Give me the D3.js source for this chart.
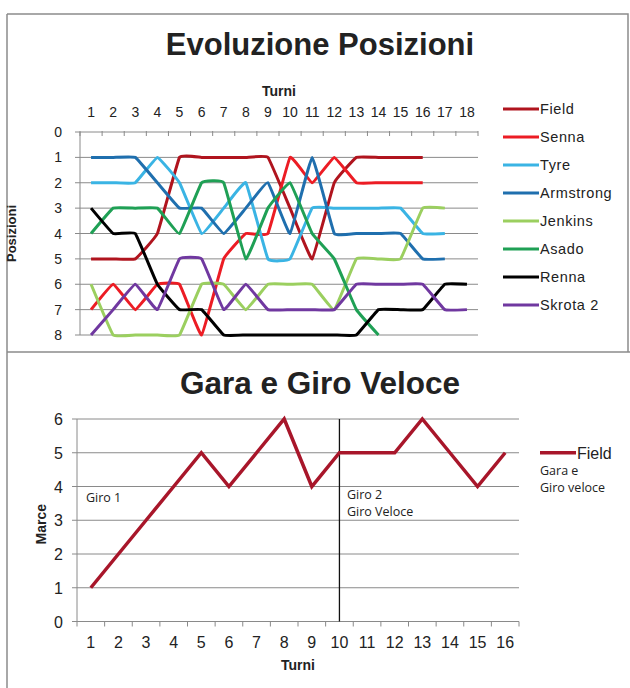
<!DOCTYPE html>
<html>
<head>
<meta charset="utf-8">
<script src="https://cdn.jsdelivr.net/npm/d3@7"></script>
<style>
  body { margin: 0; background: #fff; }
  svg { display: block; }
  text { font-family: "Liberation Sans", Arial, sans-serif; fill: #222; }
</style>
</head>
<body>
<svg id="chart" width="630" height="688"></svg>
<script>
// ---- Evoluzione Posizioni ----
const turni = [1, 2, 3, 4, 5, 6, 7, 8, 9, 10, 11, 12, 13, 14, 15, 16, 17, 18];
const posizioniTicks = [0, 1, 2, 3, 4, 5, 6, 7, 8];
const piloti = ["Field", "Senna", "Tyre", "Armstrong", "Jenkins", "Asado", "Renna", "Skrota 2"];
const coloriPiloti = ["#b0141e", "#ec1c24", "#3ab4e4", "#1f6fae", "#9bcf5f", "#1fa055", "#000000", "#7038a0"];

const posField     = [5, 5, 5, 4, 1, 1, 1, 1, 1, 3, 5, 2, 1, 1, 1, 1];
const posSenna     = [7, 6, 7, 6, 6, 8, 5, 4, 4, 1, 2, 1, 2, 2, 2, 2];
const posTyre      = [2, 2, 2, 1, 2, 4, 3, 2, 5, 5, 3, 3, 3, 3, 3, 4, 4];
const posArmstrong = [1, 1, 1, 2, 3, 3, 4, 3, 2, 4, 1, 4, 4, 4, 4, 5, 5];
const posJenkins   = [6, 8, 8, 8, 8, 6, 6, 7, 6, 6, 6, 7, 5, 5, 5, 3, 3];
const posAsado     = [4, 3, 3, 3, 4, 2, 2, 5, 3, 2, 4, 5, 7, 8];
const posRenna     = [3, 4, 4, 6, 7, 7, 8, 8, 8, 8, 8, 8, 8, 7, 7, 7, 6, 6];
const posSkrota    = [8, 7, 6, 7, 5, 5, 7, 6, 7, 7, 7, 7, 6, 6, 6, 6, 7, 7];

// ---- Gara e Giro Veloce ----
const turniGara = [1, 2, 3, 4, 5, 6, 7, 8, 9, 10, 11, 12, 13, 14, 15, 16];
const marceTicks = [0, 1, 2, 3, 4, 5, 6];
const marceField = [1, 2, 3, 4, 5, 4, 5, 6, 4, 5, 5, 5, 6, 5, 4, 5];
const turnoGiro2 = 10;
const noteGiro1 = ["Giro 1"];
const noteGiro2 = ["Giro 2", "Giro Veloce"];
const legendaGara = ["Gara e", "Giro veloce"];

const serie = [posField, posSenna, posTyre, posArmstrong, posJenkins, posAsado, posRenna, posSkrota];

const svg = d3.select("#chart");
const frameColor = "#8c8c8c";
const gridColor = "#8a8a8a";

// panel frames
svg.append("path")
  .attr("d", "M7,14 H628 V352 M7,14 V688 M7,352 H630")
  .attr("fill", "none").attr("stroke", frameColor).attr("stroke-width", 1.5);

// ===================== top panel =====================
const xTop = d3.scaleBand().domain(turni).range([80, 478]);
const yTop = d3.scaleLinear().domain([0, 8]).range([132, 335]);
const cx = t => xTop(t) + xTop.bandwidth() / 2;

const gTop = svg.append("g");

gTop.append("text")
  .attr("x", 320).attr("y", 55)
  .attr("text-anchor", "middle")
  .style("font-size", "31px").style("font-weight", "bold")
  .text("Evoluzione Posizioni");

// horizontal gridlines
gTop.selectAll("line.grid").data(posizioniTicks.slice(1)).enter().append("line")
  .attr("x1", 80).attr("x2", 478)
  .attr("y1", d => yTop(d)).attr("y2", d => yTop(d))
  .attr("stroke", gridColor).attr("stroke-width", 1);

// top category axis
gTop.append("line")
  .attr("x1", 80).attr("x2", 478).attr("y1", yTop(0)).attr("y2", yTop(0))
  .attr("stroke", gridColor).attr("stroke-width", 1);
const bordiTop = turni.map(t => xTop(t)).concat([xTop.range()[1]]);
gTop.selectAll("line.tickx").data(bordiTop).enter().append("line")
  .attr("x1", d => d).attr("x2", d => d)
  .attr("y1", yTop(0) - 1).attr("y2", yTop(0) + 4)
  .attr("stroke", gridColor);
gTop.selectAll("text.xlab").data(turni).enter().append("text")
  .attr("x", d => cx(d)).attr("y", 117)
  .attr("text-anchor", "middle")
  .style("font-size", "14px")
  .text(d => d);
gTop.append("text")
  .attr("x", 279).attr("y", 96)
  .attr("text-anchor", "middle")
  .style("font-size", "14px").style("font-weight", "bold")
  .text("Turni");

// left value axis
gTop.append("line")
  .attr("x1", 80).attr("x2", 80).attr("y1", yTop(0)).attr("y2", yTop(8))
  .attr("stroke", gridColor);
gTop.selectAll("line.ticky").data(posizioniTicks).enter().append("line")
  .attr("x1", 75).attr("x2", 80)
  .attr("y1", d => yTop(d)).attr("y2", d => yTop(d))
  .attr("stroke", gridColor);
gTop.selectAll("text.ylab").data(posizioniTicks).enter().append("text")
  .attr("x", 62).attr("y", d => yTop(d) + 5)
  .attr("text-anchor", "end")
  .style("font-size", "14px")
  .text(d => d);
gTop.append("text")
  .attr("transform", `translate(16,${(yTop(0) + yTop(8)) / 2}) rotate(-90)`)
  .attr("text-anchor", "middle")
  .style("font-size", "13px").style("font-weight", "bold")
  .text("Posizioni");

// position lines (lightly smoothed)
const linea = d3.line()
  .x((v, i) => cx(turni[i]))
  .y(v => yTop(v))
  .curve(d3.curveCardinal.tension(0.75));

gTop.selectAll("path.pilota").data(serie).enter().append("path")
  .attr("d", d => linea(d))
  .attr("fill", "none")
  .attr("stroke", (d, i) => coloriPiloti[i])
  .attr("stroke-width", 3)
  .attr("stroke-linejoin", "round");

// legend
const leg = gTop.selectAll("g.leg").data(piloti).enter().append("g")
  .attr("transform", (d, i) => `translate(503,${109 + i * 28})`);
leg.append("line")
  .attr("x1", 0).attr("x2", 36).attr("y1", 0).attr("y2", 0)
  .attr("stroke", (d, i) => coloriPiloti[i]).attr("stroke-width", 3);
leg.append("text")
  .attr("x", 37).attr("y", 5)
  .style("font-size", "14.5px").style("letter-spacing", "0.6px")
  .text(d => d);

// ===================== bottom panel =====================
const xBot = d3.scaleBand().domain(turniGara).range([77, 519]);
const yBot = d3.scaleLinear().domain([0, 6]).range([621.5, 419]);
const bx = t => xBot(t) + xBot.bandwidth() / 2;

const gBot = svg.append("g");

gBot.append("text")
  .attr("x", 320).attr("y", 394)
  .attr("text-anchor", "middle")
  .style("font-size", "31.5px").style("font-weight", "bold")
  .text("Gara e Giro Veloce");

gBot.selectAll("line.grid").data(marceTicks.slice(1)).enter().append("line")
  .attr("x1", 77).attr("x2", 519)
  .attr("y1", d => yBot(d)).attr("y2", d => yBot(d))
  .attr("stroke", gridColor);

// value axis
gBot.append("line")
  .attr("x1", 77).attr("x2", 77).attr("y1", yBot(0)).attr("y2", yBot(6))
  .attr("stroke", gridColor);
gBot.selectAll("line.ticky").data(marceTicks).enter().append("line")
  .attr("x1", 72).attr("x2", 77)
  .attr("y1", d => yBot(d)).attr("y2", d => yBot(d))
  .attr("stroke", gridColor);
gBot.selectAll("text.ylab").data(marceTicks).enter().append("text")
  .attr("x", 63).attr("y", d => yBot(d) + 6)
  .attr("text-anchor", "end")
  .style("font-size", "16px")
  .text(d => d);
gBot.append("text")
  .attr("transform", `translate(46,${(yBot(0) + yBot(6)) / 2 + 4}) rotate(-90)`)
  .attr("text-anchor", "middle")
  .style("font-size", "14px").style("font-weight", "bold")
  .text("Marce");

// category axis
gBot.append("line")
  .attr("x1", 77).attr("x2", 519).attr("y1", yBot(0)).attr("y2", yBot(0))
  .attr("stroke", gridColor);
const bordiBot = turniGara.map(t => xBot(t)).concat([xBot.range()[1]]);
gBot.selectAll("line.tickx").data(bordiBot).enter().append("line")
  .attr("x1", d => d).attr("x2", d => d)
  .attr("y1", yBot(0)).attr("y2", yBot(0) + 5)
  .attr("stroke", gridColor);
gBot.selectAll("text.xlab").data(turniGara).enter().append("text")
  .attr("x", d => bx(d)).attr("y", 648)
  .attr("text-anchor", "middle")
  .style("font-size", "16px")
  .text(d => d);
gBot.append("text")
  .attr("x", 298).attr("y", 670)
  .attr("text-anchor", "middle")
  .style("font-size", "14px").style("font-weight", "bold")
  .text("Turni");

// lap divider
gBot.append("line")
  .attr("x1", bx(turnoGiro2)).attr("x2", bx(turnoGiro2))
  .attr("y1", yBot(6)).attr("y2", yBot(0))
  .attr("stroke", "#111").attr("stroke-width", 1.3);

// gear line
const lineaGara = d3.line()
  .x((v, i) => bx(turniGara[i]))
  .y(v => yBot(v));
gBot.append("path")
  .attr("d", lineaGara(marceField))
  .attr("fill", "none")
  .attr("stroke", "#a8162a").attr("stroke-width", 3.5)
  .attr("stroke-linejoin", "miter");

// lap notes
const notaFont = "'Open Sans', 'DejaVu Sans', sans-serif";
gBot.selectAll("text.g1").data(noteGiro1).enter().append("text")
  .attr("x", 86).attr("y", (d, i) => 502 + i * 17)
  .style("font-family", notaFont).style("font-size", "12.5px")
  .text(d => d);
gBot.selectAll("text.g2").data(noteGiro2).enter().append("text")
  .attr("x", 347).attr("y", (d, i) => 499 + i * 17)
  .style("font-family", notaFont).style("font-size", "12.5px")
  .text(d => d);

// legend
gBot.append("line")
  .attr("x1", 540).attr("x2", 576).attr("y1", yBot(5)).attr("y2", yBot(5))
  .attr("stroke", "#a8162a").attr("stroke-width", 3.5);
gBot.append("text")
  .attr("x", 577).attr("y", yBot(5) + 6)
  .style("font-size", "16px")
  .text("Field");
gBot.selectAll("text.lg").data(legendaGara).enter().append("text")
  .attr("x", 540).attr("y", (d, i) => 475 + i * 17)
  .style("font-family", notaFont).style("font-size", "12.5px")
  .text(d => d);
</script>
</body>
</html>
